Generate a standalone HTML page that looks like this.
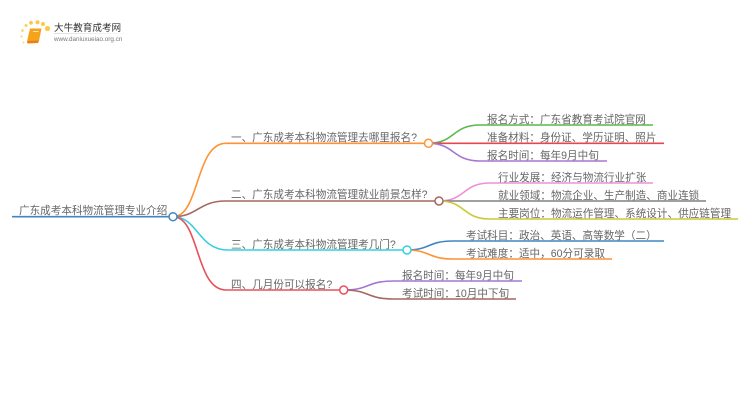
<!DOCTYPE html>
<html><head><meta charset="utf-8">
<style>
html,body{margin:0;padding:0;background:#fff;width:750px;height:410px;overflow:hidden}
svg{display:block;filter:blur(.3px)}
text{font-family:"Liberation Sans","Noto Sans CJK SC",sans-serif;font-size:10.6px;fill:#666}
path{fill:none;stroke-width:1.6}
circle.n{fill:#fff;stroke-width:1.5}
</style></head><body>
<svg width="750" height="410" viewBox="0 0 750 410" xmlns="http://www.w3.org/2000/svg">
<defs><linearGradient id="g" x1="0" y1="0" x2="1" y2="0"><stop offset="0" stop-color="#ddd"/><stop offset="1" stop-color="#fff"/></linearGradient></defs>
<!-- logo -->
<g>
<circle cx="47.5" cy="28.5" r="2.6" fill="#fbc94a"/><circle cx="43" cy="24" r="2" fill="#fbc94a"/><circle cx="37.5" cy="22.3" r="2" fill="#fbc94a"/><circle cx="31" cy="22.8" r="1.9" fill="#fbc94a"/><circle cx="26" cy="25.5" r="1.5" fill="#fbd060"/><circle cx="22.5" cy="30.5" r="1.3" fill="#fbd060"/><circle cx="21.5" cy="36.5" r="1.1" fill="#fbd878"/><circle cx="23.5" cy="42.5" r="1" fill="#fbd878"/>
<polygon points="30,28.5 41.5,28.5 39,41 27,41.5" fill="#f5a21c"/>
<polygon points="27,41 39,40.5 38,43 27.5,43.5" fill="#e87f10"/>
<rect x="33" y="31" width="5.5" height="1" fill="#fde3a8"/>
<text x="54" y="31" style="font-size:9.6px;fill:#333">大牛教育成考网</text>
<rect x="54" y="33" width="80" height="1" fill="url(#g)"/>
<text x="54" y="41" style="font-size:6.3px;fill:#777">www.daniuxueiao.org.cn</text>
</g>
<!-- root -->
<path d="M12 216.7H173" stroke="#3f86c4"/>
<!-- level 1 -->
<path d="M173 216.7C200 216.7 195 143.3 226 143.3H428.5" stroke="#ff9233"/>
<path d="M173 216.7C198 216.7 198 201 226 201H439" stroke="#a5675f"/>
<path d="M173 216.7C198 216.7 198 250 228 250H407" stroke="#35d0e2"/>
<path d="M173 216.7C200 216.7 195 290 226 290H344" stroke="#e8525a"/>
<!-- level 2 -->
<path d="M428.5 143.3C455 143.3 452 125 480 125H653" stroke="#58b94c"/>
<path d="M428.5 143.3H664" stroke="#e8464e"/>
<path d="M428.5 143.3C455 143.3 452 161 480 161H607" stroke="#a676d2"/>
<path d="M439 201C466 201 462 183 490 183H653" stroke="#f08fd8"/>
<path d="M439 201H706" stroke="#808080"/>
<path d="M439 201C466 201 462 219 490 219H738" stroke="#c9c93a"/>
<path d="M407 250C430 250 428 241 453 241H664" stroke="#3f86c4"/>
<path d="M407 250C430 250 428 259 453 259H612" stroke="#ff9233"/>
<path d="M344 290C370 290 366 281 394 281H522" stroke="#a676d2"/>
<path d="M344 290C370 290 366 299 394 299H516" stroke="#a5675f"/>
<!-- nodes -->
<circle class="n" cx="173" cy="216.7" r="4" stroke="#3f86c4"/>
<circle class="n" cx="428.5" cy="143.3" r="4" stroke="#ff9233"/>
<circle class="n" cx="439" cy="201" r="4" stroke="#a5675f"/>
<circle class="n" cx="407" cy="250" r="4" stroke="#35d0e2"/>
<circle class="n" cx="343.7" cy="290" r="4" stroke="#e8525a"/>
<!-- labels -->
<text x="19" y="214">广东成考本科物流管理专业介绍</text>
<text x="231" y="141">一、广东成考本科物流管理去哪里报名?</text>
<text x="231" y="198">二、广东成考本科物流管理就业前景怎样?</text>
<text x="231" y="248">三、广东成考本科物流管理考几门?</text>
<text x="231" y="288">四、几月份可以报名?</text>
<text x="487" y="123">报名方式：广东省教育考试院官网</text>
<text x="487" y="141">准备材料：身份证、学历证明、照片</text>
<text x="487" y="159">报名时间：每年9月中旬</text>
<text x="498" y="181">行业发展：经济与物流行业扩张</text>
<text x="498" y="199">就业领域：物流企业、生产制造、商业连锁</text>
<text x="498" y="217">主要岗位：物流运作管理、系统设计、供应链管理</text>
<text x="466" y="239">考试科目：政治、英语、高等数学（二）</text>
<text x="466" y="257">考试难度：适中，60分可录取</text>
<text x="402" y="279">报名时间：每年9月中旬</text>
<text x="402" y="297">考试时间：10月中下旬</text>
</svg>
</body></html>
